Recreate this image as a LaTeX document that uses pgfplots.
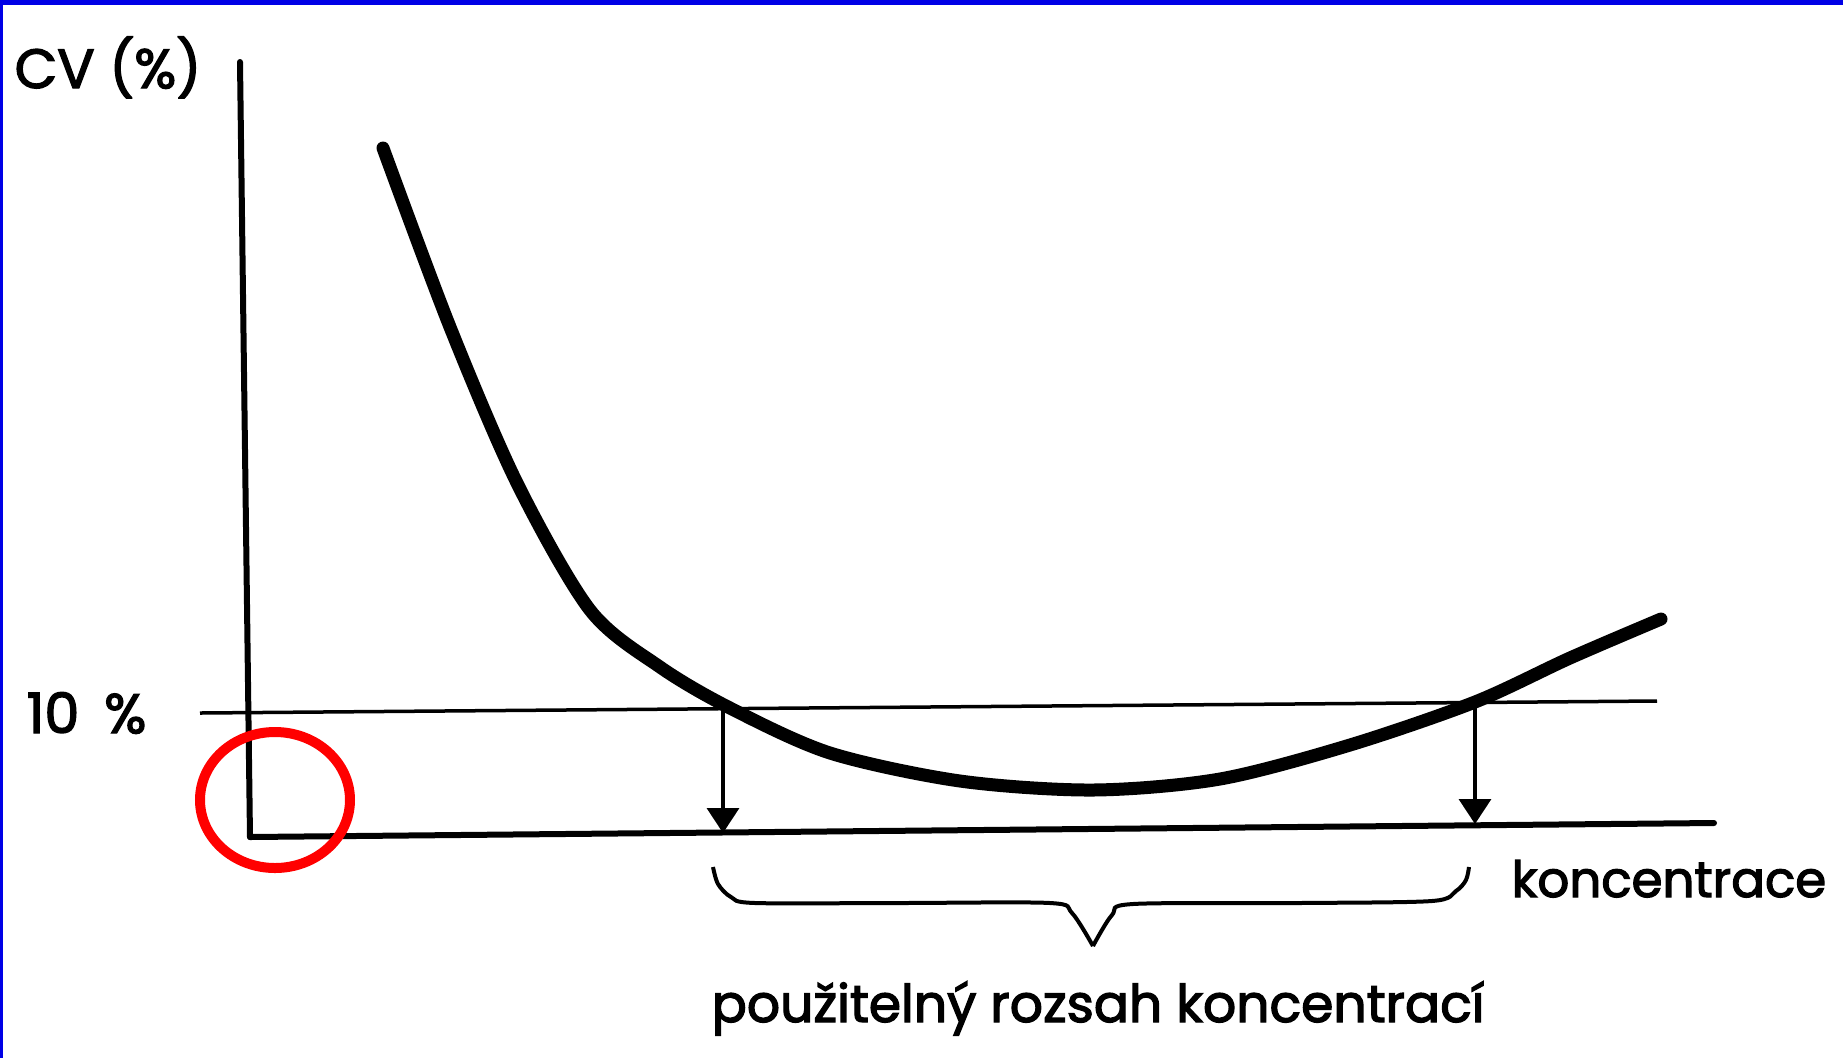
\documentclass[border=0pt]{standalone}
\usepackage{pgfplots}
\pgfplotsset{compat=1.18}
\usepackage{fontspec}
\setmainfont{Poppins}
\newfontfamily\scanfont{Poppins}[FakeBold=2.5]
\usetikzlibrary{arrows.meta}
\definecolor{scanblue}{RGB}{0,0,230}
\begin{document}
\begin{tikzpicture}
\begin{axis}[
  scale only axis, width=18.43cm, height=10.58cm,
  xmin=0, xmax=1843, ymin=0, ymax=1058, y dir=reverse,
  hide axis, clip=false,
]
% page background and scan frame
\fill[white] (axis cs:0,0) rectangle (axis cs:1843,1058);
\fill[scanblue] (axis cs:0,0) rectangle (axis cs:1843,5);
\fill[scanblue] (axis cs:0,0) rectangle (axis cs:3,1058);

% axes (hand drawn, slightly tilted)
\addplot[black, line width=0.06cm, line cap=round] coordinates {(240,62) (250,837)};
\addplot[black, line width=0.06cm, line cap=round] coordinates {(250,837) (1714,823)};
% 10 % line
\addplot[black, line width=0.035cm] coordinates {(200,713) (1657,701)};

% CV curve
\addplot[black, line width=0.13cm, smooth, tension=0.5, line cap=round] coordinates {
(383,148) (450,327) (517,483) (590,610) (660,667) (730,708) (830,753)
(960,781) (1093,790) (1220,779) (1350,745) (1475,702) (1570,658) (1661,619)};

% arrows down to the concentration axis
\addplot[black, line width=0.035cm, -{Triangle[width=0.32cm,length=0.25cm]}] coordinates {(723,709) (723,833)};
\addplot[black, line width=0.035cm, -{Triangle[width=0.32cm,length=0.25cm]}] coordinates {(1475,701) (1475,824)};

% brace
\addplot[black, line width=0.04cm, smooth, tension=0.5] coordinates {
(713,867) (718,884) (731,897) (755,903) (900,903) (1050,903) (1072,913) (1093,946)};
\addplot[black, line width=0.04cm, smooth, tension=0.5] coordinates {
(1093,946) (1112,915) (1133,904) (1300,903) (1432,901) (1456,891) (1466,880) (1469,867)};

% red highlight circle
\draw[red, line width=0.1cm] (axis cs:275,800) ellipse [x radius=0.75cm, y radius=0.68cm];

% texts
\node[anchor=base west, inner sep=0pt, font=\scanfont\fontsize{15.7pt}{18pt}\selectfont] at (axis cs:14,88) {CV (\%)};
\node[anchor=base west, inner sep=0pt, font=\scanfont\fontsize{15.8pt}{18pt}\selectfont] at (axis cs:26,733) {10\hspace{0.45em}\%};
\node[anchor=base west, inner sep=0pt, font=\scanfont\fontsize{14.2pt}{18pt}\selectfont] at (axis cs:1511,897) {koncentrace};
\node[anchor=base west, inner sep=0pt, font=\scanfont\fontsize{14.8pt}{18pt}\selectfont] at (axis cs:711,1022) {použitelný rozsah koncentrací};
\end{axis}
\end{tikzpicture}
\end{document}
